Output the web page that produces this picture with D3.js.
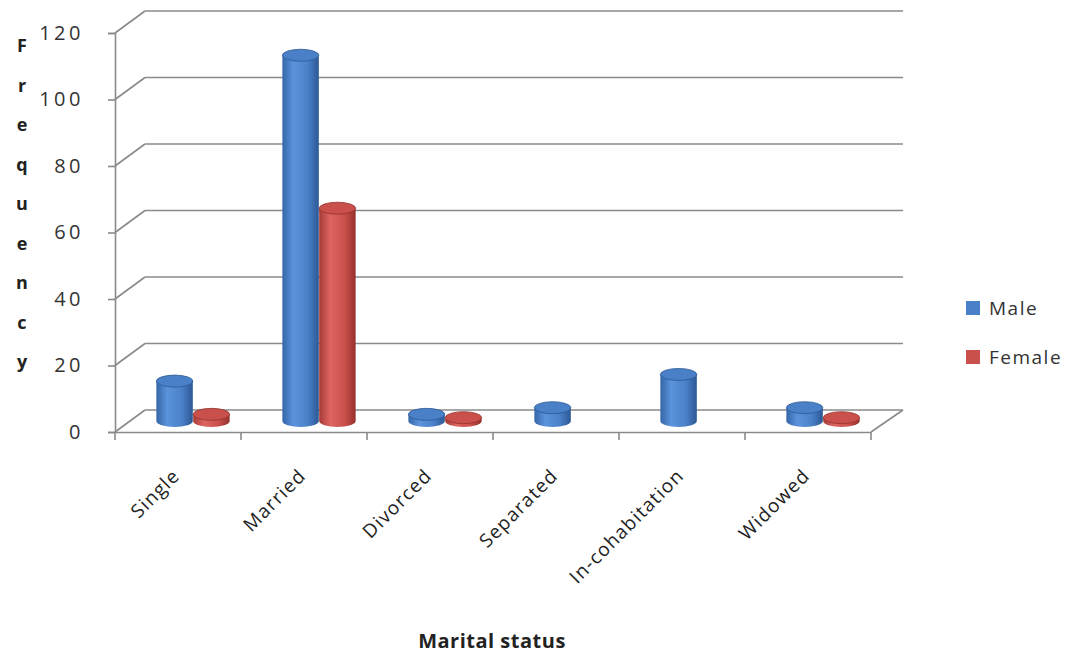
<!DOCTYPE html>
<html><head><meta charset="utf-8">
<script src="https://cdn.jsdelivr.net/npm/d3@7/dist/d3.min.js"></script>
<style>body{margin:0;background:#fff}svg{display:block}</style>
</head><body>
<svg id="chart" width="1075" height="653"></svg>
<script>
const categories = ["Single","Married","Divorced","Separated","In-cohabitation","Widowed"];
const seriesNames = ["Male","Female"];
const maleValues = [12,110,2,4,14,4];
const femaleValues = [2,64,1,0,0,1];
const yTicks = [0,20,40,60,80,100,120];
const yTitle = "Frequency";
const xTitle = "Marital status";

const svg = d3.select("#chart");
const font = "'Open Sans', Lato, sans-serif";
const depthX = 30, depthY = -22;
const x = d3.scaleBand().domain(categories).range([115, 871]).padding(0);
const y = d3.scaleLinear().domain([0, 120]).range([432, 33]);
const inner = d3.scaleBand().domain(seriesNames).range([-37, 37]).padding(0.01);
const colors = {Male: ["#3465a8","#5b94dc","#4a80c8","#2c5894"], Female: ["#a63a36","#de6662","#c9504b","#95302c"]};
const gridColor = "#8a8a8a";

const defs = svg.append("defs");
seriesNames.forEach(s => {
  const c = colors[s];
  const g = defs.append("linearGradient").attr("id","grad"+s).attr("x1","0").attr("x2","1").attr("y1","0").attr("y2","0");
  g.append("stop").attr("offset","0%").attr("stop-color",c[0]);
  g.append("stop").attr("offset","30%").attr("stop-color",c[1]);
  g.append("stop").attr("offset","70%").attr("stop-color",c[2]);
  g.append("stop").attr("offset","100%").attr("stop-color",c[3]);
});

// back wall gridlines and side diagonals
const grid = svg.append("g");
yTicks.forEach(t => {
  grid.append("line").attr("x1", x.range()[0] + depthX).attr("x2", x.range()[1] + depthX + 2)
    .attr("y1", y(t) + depthY).attr("y2", y(t) + depthY)
    .attr("stroke", gridColor).attr("stroke-width", 1.6);
  grid.append("line").attr("x1", x.range()[0]).attr("x2", x.range()[0] + depthX)
    .attr("y1", y(t)).attr("y2", y(t) + depthY)
    .attr("stroke", gridColor).attr("stroke-width", 1.6);
});
// floor right edge
grid.append("line").attr("x1", x.range()[1]).attr("x2", x.range()[1] + depthX + 2)
  .attr("y1", y(0)).attr("y2", y(0) + depthY).attr("stroke", gridColor).attr("stroke-width", 1.6);

// front y axis
const yAxis = d3.axisLeft(y).tickValues(yTicks).tickSize(7).tickPadding(24);
const ya = svg.append("g").attr("transform", `translate(${x.range()[0]},0)`).call(yAxis);
ya.select(".domain").attr("stroke", gridColor).attr("stroke-width", 1.6);
ya.selectAll(".tick line").attr("stroke", gridColor).attr("stroke-width", 1.6);
ya.selectAll(".tick text").attr("font-family", font).attr("font-size", 20).attr("fill", "#333")
  .attr("letter-spacing", 3.5);

// front x axis
const xAxis = d3.axisBottom(x).tickSize(0).tickFormat("");
const xa = svg.append("g").attr("transform", `translate(0,${y(0)})`).call(xAxis);
xa.select(".domain").attr("stroke", gridColor).attr("stroke-width", 1.6);
const bounds = categories.map(c => x(c)).concat([x.range()[1]]);
xa.selectAll(".bound").data(bounds).enter().append("line")
  .attr("x1", d => d).attr("x2", d => d).attr("y1", 0).attr("y2", 8)
  .attr("stroke", gridColor).attr("stroke-width", 1.6);
xa.selectAll(".lab").data(categories).enter().append("text")
  .attr("transform", d => `translate(${x(d) + x.bandwidth()/2 + 3},${45}) rotate(-45)`)
  .attr("text-anchor", "end").attr("font-family", font).attr("font-size", 19).attr("fill", "#222")
  .attr("letter-spacing", 1.2)
  .text(d => d);

// bars (cylinders)
const ry = 6;
const rows = [];
categories.forEach((c, i) => {
  rows.push({cat: c, s: "Male", v: maleValues[i]});
  rows.push({cat: c, s: "Female", v: femaleValues[i]});
});
const bars = svg.append("g");
rows.filter(d => d.v > 0).forEach(d => {
  const cx = x(d.cat) + x.bandwidth()/2 + depthX/2 + inner(d.s) + inner.bandwidth()/2;
  const rx = inner.bandwidth()/2;
  const yb = y(0) + depthY/2;
  const yt = y(d.v) + depthY/2;
  const g = bars.append("g");
  g.append("path")
    .attr("d", `M${cx-rx},${yt} L${cx-rx},${yb} A${rx},${ry} 0 0 0 ${cx+rx},${yb} L${cx+rx},${yt} Z`)
    .attr("fill", `url(#grad${d.s})`);
  g.append("ellipse").attr("cx", cx).attr("cy", yt).attr("rx", rx).attr("ry", ry)
    .attr("fill", colors[d.s][2]).attr("stroke", colors[d.s][3]).attr("stroke-width", 0.8);
});

// y title stacked letters
const yt = svg.append("g");
yTitle.split("").forEach((ch, i) => {
  yt.append("text").attr("x", 22).attr("y", 52 + i * 39.5).attr("text-anchor", "middle")
    .attr("font-family", font).attr("font-size", 18).attr("font-weight", "bold").attr("fill", "#222").text(ch);
});

// x title
svg.append("text").attr("x", 492).attr("y", 648).attr("text-anchor", "middle")
  .attr("font-family", font).attr("font-size", 20).attr("font-weight", "bold").attr("fill", "#222")
  .attr("letter-spacing", 0.5).text(xTitle);

// legend
const lg = svg.append("g");
seriesNames.forEach((s, i) => {
  lg.append("rect").attr("x", 966).attr("y", 301 + i * 49).attr("width", 14).attr("height", 14).attr("fill", colors[s][2]);
  lg.append("text").attr("x", 989).attr("y", 315 + i * 49).attr("font-family", font).attr("font-size", 19)
    .attr("letter-spacing", 1.5).attr("fill", "#333").text(s);
});
</script>
</body></html>
